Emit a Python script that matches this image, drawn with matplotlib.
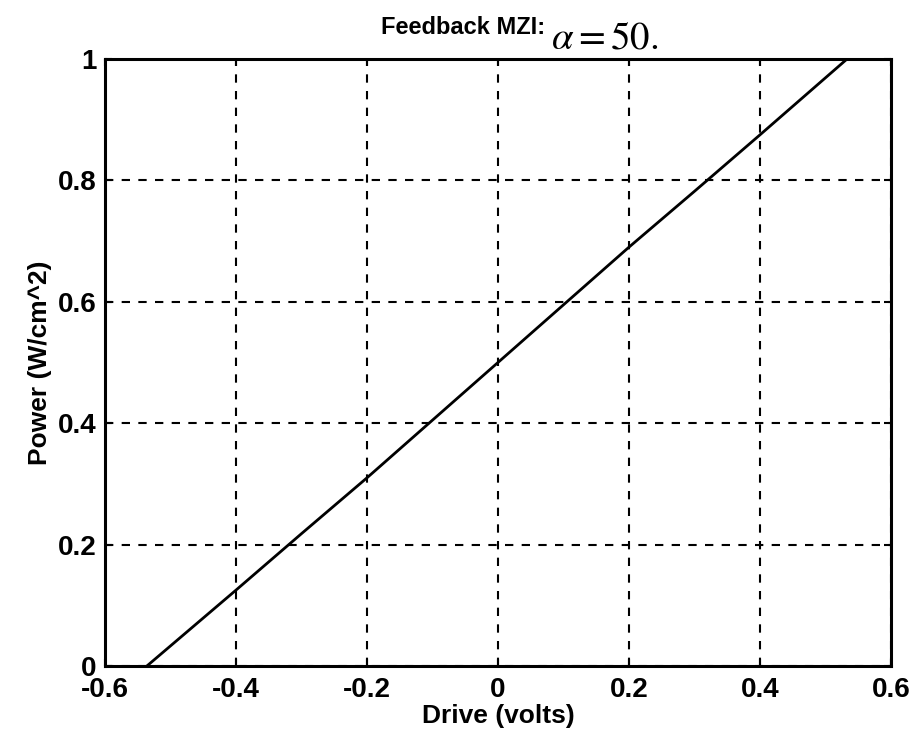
import numpy as np
import matplotlib.pyplot as plt

plt.rcParams['font.family'] = ['Liberation Sans', 'DejaVu Sans']
plt.rcParams['mathtext.fontset'] = 'stix'

# drive voltage vs power
drive = [-0.536, -0.4, -0.3, -0.2, -0.1, 0.0, 0.1, 0.2, 0.3, 0.4, 0.533, 0.6]
power = [0.0, 0.125, 0.218, 0.31, 0.405, 0.5, 0.595, 0.69, 0.782, 0.875, 1.0, 1.0]

xticks = [-0.6, -0.4, -0.2, 0, 0.2, 0.4, 0.6]
xticklabels = ['-0.6', '-0.4', '-0.2', '0', '0.2', '0.4', '0.6']
yticks = [0, 0.2, 0.4, 0.6, 0.8, 1]
yticklabels = ['0', '0.2', '0.4', '0.6', '0.8', '1']

fig = plt.figure(figsize=(9.1, 7.52), dpi=100)
ax = fig.add_axes([0.1154, 0.1144, 0.8636, 0.8071])

ax.plot(drive, power, '-', color='black', linewidth=2.0)

ax.set_xlim(-0.6, 0.6)
ax.set_ylim(0, 1)
ax.set_xticks(xticks)
ax.set_xticklabels(xticklabels)
ax.set_yticks(yticks)
ax.set_yticklabels(yticklabels)
ax.tick_params(direction='in', length=5, width=1.5, labelsize=20,
               top=True, right=True)
ax.tick_params(axis='x', pad=8)
ax.tick_params(axis='y', pad=6)
for lab in ax.get_xticklabels() + ax.get_yticklabels():
    lab.set_fontweight('bold')

ax.grid(True, color='black', linestyle=(0, (4, 4)), linewidth=1.5)
for sp in ax.spines.values():
    sp.set_linewidth(2.2)

ax.set_xlabel('Drive (volts)', fontsize=19, fontweight='bold', labelpad=1)
ax.set_ylabel('Power (W/cm^2)', fontsize=19, fontweight='bold', labelpad=4)

fig.text(0.509, 0.955, 'Feedback MZI:', fontsize=17, fontweight='bold',
         ha='center', va='baseline')
fig.text(0.606, 0.935, r'$\alpha = 50.$', fontsize=28,
         ha='left', va='baseline')

plt.savefig('out.png', dpi=100)
